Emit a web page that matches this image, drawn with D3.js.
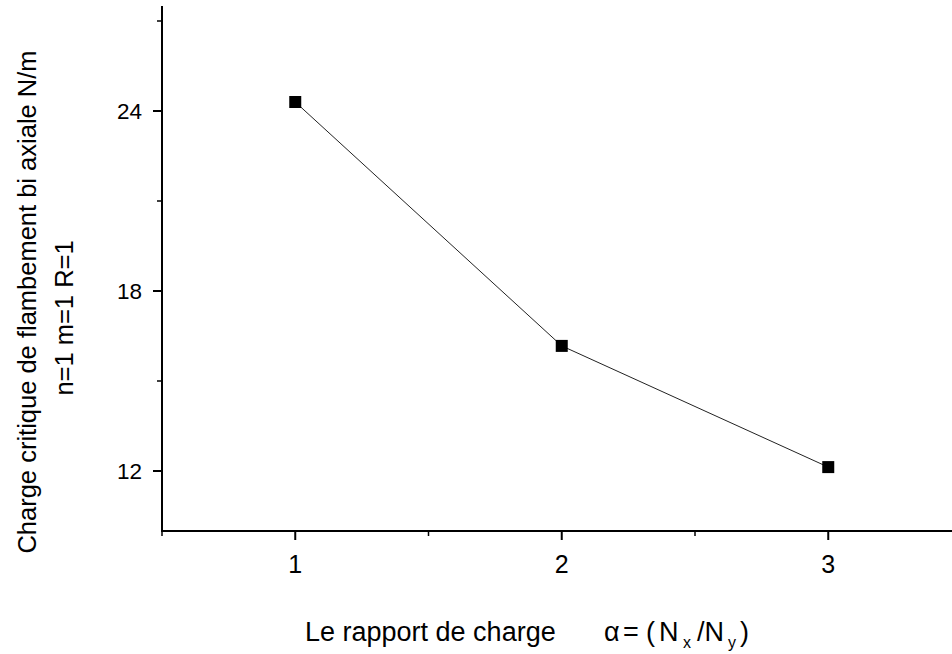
<!DOCTYPE html>
<html><head><meta charset="utf-8">
<script src="https://cdn.jsdelivr.net/npm/d3@7"></script>
<style>body{margin:0;background:#fff}text{font-family:"Liberation Sans",Arial,sans-serif}</style>
</head><body><svg id="c" width="952" height="654"></svg>
<script>
const xValues = [1, 2, 3];
const yValues = [24.3, 16.17, 12.13];
const xTicks = [1, 2, 3];
const xMinor = [0.5, 1.5, 2.5];
const yTicks = [12, 18, 24];
const yMinor = [15, 21, 27];
const xLabelMain = "Le rapport de charge";
const xLabelParts = [
  {t: "\u03B1", x: 604, sub: false},
  {t: "=", x: 623, sub: false},
  {t: "(", x: 646, sub: false},
  {t: "N", x: 659, sub: false},
  {t: "x", x: 683, sub: true},
  {t: "/N", x: 697, sub: false},
  {t: "y", x: 728, sub: true},
  {t: ")", x: 740, sub: false}
];

const svg = d3.select("#c");
const x = d3.scaleLinear().domain([0.5, 3.5]).range([162, 961.5]);
const y = d3.scaleLinear().domain([10, 27.5]).range([531, 6]);

const g = svg.append("g");
g.append("line").attr("x1", x(0.5) - 1).attr("x2", 952).attr("y1", y(10)).attr("y2", y(10)).attr("stroke", "#000").attr("stroke-width", 2);
g.append("line").attr("x1", x(0.5)).attr("x2", x(0.5)).attr("y1", y(10)).attr("y2", y(27.5)).attr("stroke", "#000").attr("stroke-width", 2);

g.selectAll(".xt").data(xTicks).enter().append("line")
  .attr("x1", d => x(d)).attr("x2", d => x(d)).attr("y1", y(10)).attr("y2", y(10) + 9)
  .attr("stroke", "#000").attr("stroke-width", 2);
g.selectAll(".xm").data(xMinor).enter().append("line")
  .attr("x1", d => x(d)).attr("x2", d => x(d)).attr("y1", y(10)).attr("y2", y(10) + 5)
  .attr("stroke", "#000").attr("stroke-width", 1.5);
g.selectAll(".xl").data(xTicks).enter().append("text")
  .attr("x", d => x(d)).attr("y", 573).attr("text-anchor", "middle")
  .attr("font-size", 25).text(d => d);

g.selectAll(".yt").data(yTicks).enter().append("line")
  .attr("x1", x(0.5) - 9).attr("x2", x(0.5)).attr("y1", d => y(d)).attr("y2", d => y(d))
  .attr("stroke", "#000").attr("stroke-width", 2);
g.selectAll(".ym").data(yMinor).enter().append("line")
  .attr("x1", x(0.5) - 5).attr("x2", x(0.5)).attr("y1", d => y(d)).attr("y2", d => y(d))
  .attr("stroke", "#000").attr("stroke-width", 1.5);
g.selectAll(".yl").data(yTicks).enter().append("text")
  .attr("x", 142).attr("y", d => y(d) + 8).attr("text-anchor", "end")
  .attr("font-size", 22.5).text(d => d);

const pts = xValues.map((v, i) => [v, yValues[i]]);
g.append("path").datum(pts)
  .attr("d", d3.line().x(d => x(d[0])).y(d => y(d[1])))
  .attr("fill", "none").attr("stroke", "#222").attr("stroke-width", 1);
g.selectAll(".pt").data(pts).enter().append("rect")
  .attr("x", d => x(d[0]) - 6).attr("y", d => y(d[1]) - 6)
  .attr("width", 12).attr("height", 12).attr("fill", "#000");

const xl = svg.append("text").attr("font-size", 27);
xl.append("tspan").attr("x", 305).attr("y", 641).text(xLabelMain);
xLabelParts.forEach(p => {
  xl.append("tspan").attr("x", p.x).attr("y", p.sub ? 648 : 641)
    .attr("font-size", p.sub ? 16 : 27).text(p.t);
});

const yl = svg.append("g").attr("transform", "translate(0,302) rotate(-90)");
yl.append("text").attr("x", 0).attr("y", 36).attr("text-anchor", "middle").attr("font-size", 25.5)
  .text("Charge critique de flambement bi axiale N/m");
yl.append("text").attr("x", -16).attr("y", 73).attr("text-anchor", "middle").attr("font-size", 25.5)
  .text("n=1 m=1 R=1");
</script></body></html>
